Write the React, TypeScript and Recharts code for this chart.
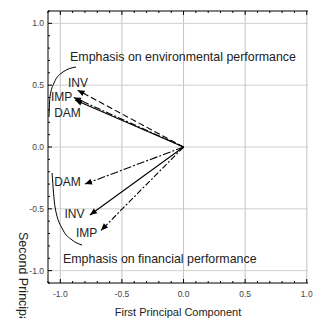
import React from 'react';
import { LineChart, Line, XAxis, YAxis, ReferenceLine, ReferenceDot } from 'recharts';

// loadings (first, second principal component)
const vectorNames = ['INV', 'IMP', 'DAM', 'DAM', 'INV', 'IMP'];
const vectorX = [-0.86, -0.89, -0.88, -0.80, -0.76, -0.67];
const vectorY = [0.46, 0.40, 0.38, -0.30, -0.55, -0.675];
const vectorDash = ['6 3', '7 2 2 2', '', '8 2 2 2', '', '6 2 2 2'];

// variable labels
const labelText = ['INV', 'IMP', 'DAM', 'DAM', 'INV', 'IMP'];
const labelX = [-0.857, -0.99, -0.942, -0.942, -0.885, -0.787];
const labelY = [0.518, 0.41, 0.275, -0.283, -0.542, -0.696];

// bracket curves
const upperArcX = [-1.092, -1.084, -1.051, -0.978, -0.873];
const upperArcY = [0.243, 0.405, 0.518, 0.607, 0.647];
const lowerArcX = [-1.067, -1.043, -0.978, -0.905, -0.824];
const lowerArcY = [-0.21, -0.485, -0.672, -0.752, -0.793];

const notes = ['Emphasis on environmental performance', 'Emphasis on financial performance'];
const noteX = [-0.921, -0.978];
const noteY = [0.728, -0.906];

const majorTicks = [-1.0, -0.5, 0.0, 0.5, 1.0];
const minorTicksX = [-1.1, -1.0, -0.9, -0.8, -0.7, -0.6, -0.5, -0.4, -0.3, -0.2, -0.1, 0, 0.1, 0.2, 0.3, 0.4, 0.5, 0.6, 0.7, 0.8, 0.9, 1.0];
const minorTicksY = [-1.1, -1.0, -0.9, -0.8, -0.7, -0.6, -0.5, -0.4, -0.3, -0.2, -0.1, 0, 0.1, 0.2, 0.3, 0.4, 0.5, 0.6, 0.7, 0.8, 0.9, 1.0, 1.1];

const FONT = '"Liberation Sans", Arial, sans-serif';

const isMajor = (v: number) => majorTicks.some((m) => Math.abs(m - v) < 1e-6);

const BottomTick = (props: any) => {
  const { x, y, payload } = props;
  const major = isMajor(payload.value);
  return (
    <g>
      <line x1={x} x2={x} y1={y} y2={y - (major ? 4 : 2)} stroke="#000" />
      {major && (
        <text x={x} y={y + 14} textAnchor="middle" fontSize={8.5} fill="#444" fontFamily={FONT}>
          {payload.value.toFixed(1)}
        </text>
      )}
    </g>
  );
};

const TopTick = (props: any) => {
  const { x, y, payload } = props;
  const major = isMajor(payload.value);
  return <line x1={x} x2={x} y1={y} y2={y + (major ? 4 : 2)} stroke="#000" />;
};

const LeftTick = (props: any) => {
  const { x, y, payload } = props;
  const major = isMajor(payload.value);
  return (
    <g>
      <line x1={x} x2={x + (major ? 4 : 2)} y1={y} y2={y} stroke="#000" />
      {major && (
        <text x={x - 4} y={y + 3} textAnchor="end" fontSize={8.5} fill="#444" fontFamily={FONT}>
          {payload.value.toFixed(1)}
        </text>
      )}
    </g>
  );
};

const arrowDot = (vx: number, vy: number) => (props: any) => {
  const { cx, cy, index } = props;
  if (index !== 1) return <g key={`d${index}`} />;
  const a = Math.atan2(-vy, vx);
  const L = 7;
  const W = 3;
  const bx = cx - L * Math.cos(a);
  const by = cy - L * Math.sin(a);
  const px = -Math.sin(a) * W;
  const py = Math.cos(a) * W;
  return (
    <polygon
      key={`d${index}`}
      points={`${cx},${cy} ${bx + px},${by + py} ${bx - px},${by - py}`}
      fill="#000"
    />
  );
};

const YTitle = () => (
  <text
    transform="translate(19, 232) rotate(90)"
    fontSize={12.5}
    fill="#222"
    fontFamily={FONT}
    textAnchor="start"
  >
    Second Principal Component
  </text>
);

export default function App() {
  const upperArc = upperArcX.map((x, i) => ({ x, y: upperArcY[i] }));
  const lowerArc = lowerArcX.map((x, i) => ({ x, y: lowerArcY[i] }));

  return (
    <div style={{ position: 'absolute', left: 0, top: 0, background: '#fff' }}>
      <LineChart width={313} height={318} margin={{ top: 0, right: 5, bottom: 0, left: 0 }}>
        <XAxis
          xAxisId="top"
          orientation="top"
          type="number"
          dataKey="x"
          domain={[-1.1, 1.01]}
          ticks={minorTicksX}
          interval={0}
          height={11}
          tickSize={0}
          tickMargin={0}
          tick={<TopTick />}
          axisLine={{ stroke: '#000' }}
          allowDataOverflow
        />
        <XAxis
          type="number"
          dataKey="x"
          domain={[-1.1, 1.01]}
          ticks={minorTicksX}
          interval={0}
          height={35}
          tickSize={0}
          tickMargin={0}
          tick={<BottomTick />}
          axisLine={{ stroke: '#000' }}
          allowDataOverflow
          label={{
            value: 'First Principal Component',
            position: 'insideBottom',
            offset: 2,
            fontSize: 11,
            fill: '#222',
            fontFamily: FONT,
          }}
        />
        <YAxis
          type="number"
          dataKey="y"
          domain={[-1.1, 1.1]}
          ticks={minorTicksY}
          interval={0}
          width={48}
          tickSize={0}
          tickMargin={0}
          tick={<LeftTick />}
          axisLine={{ stroke: '#000' }}
          allowDataOverflow
          label={<YTitle />}
        />
        {majorTicks.map((v) => (
          <ReferenceLine key={`gx${v}`} x={v} stroke="#c4c4c4" strokeWidth={1} />
        ))}
        {majorTicks.map((v) => (
          <ReferenceLine key={`gy${v}`} y={v} stroke="#cfcfcf" strokeWidth={1} />
        ))}
        {vectorNames.map((name, i) => (
          <Line
            key={`v${i}`}
            data={[
              { x: 0, y: 0 },
              { x: vectorX[i], y: vectorY[i] },
            ]}
            dataKey="y"
            name={name}
            type="linear"
            stroke="#000"
            strokeWidth={1.1}
            strokeDasharray={vectorDash[i] || undefined}
            dot={arrowDot(vectorX[i], vectorY[i])}
            activeDot={false}
            isAnimationActive={false}
          />
        ))}
        <Line data={upperArc} dataKey="y" type="monotone" stroke="#000" strokeWidth={1} dot={false} activeDot={false} isAnimationActive={false} />
        <Line data={lowerArc} dataKey="y" type="monotone" stroke="#000" strokeWidth={1} dot={false} activeDot={false} isAnimationActive={false} />
        {labelText.map((t, i) => (
          <ReferenceDot
            key={`l${i}`}
            x={labelX[i]}
            y={labelY[i]}
            r={0}
            ifOverflow="visible"
            shape={(p: any) => (
              <text x={p.cx} y={p.cy} dy="0.35em" textAnchor="middle" fontSize={12} fill="#222" fontFamily={FONT}>
                {t}
              </text>
            )}
          />
        ))}
        {notes.map((t, i) => (
          <ReferenceDot
            key={`n${i}`}
            x={noteX[i]}
            y={noteY[i]}
            r={0}
            ifOverflow="visible"
            shape={(p: any) => (
              <text x={p.cx} y={p.cy} dy="0.35em" textAnchor="start" fontSize={12.4} fill="#222" fontFamily={FONT}>
                {t}
              </text>
            )}
          />
        ))}
      </LineChart>
    </div>
  );
}
